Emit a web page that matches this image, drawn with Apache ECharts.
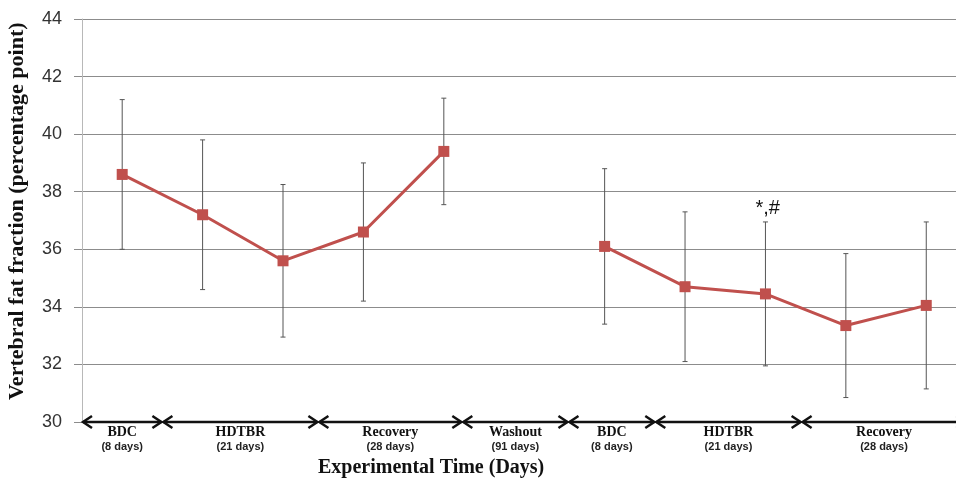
<!DOCTYPE html>
<html>
<head>
<meta charset="utf-8">
<script src="https://cdn.jsdelivr.net/npm/echarts@6/dist/echarts.min.js"></script>
<style>html,body{margin:0;padding:0;background:#fff;}#c{width:956px;height:483px;}</style>
</head>
<body>
<div id="c"></div>
<script>
// ---- data ----
var positions = [0, 1, 2, 3, 4, 5, 6, 7, 8, 9, 10];
var means     = [38.6, 37.2, 35.6, 36.6, 39.4, null, 36.1, 34.7, 34.45, 33.35, 34.05];
var errors    = [2.6, 2.6, 2.65, 2.4, 1.85, null, 2.7, 2.6, 2.5, 2.5, 2.9];
var annotText = ['', '', '', '', '', '', '', '', '*,#', '', ''];
var yTicks    = [30, 32, 34, 36, 38, 40, 42, 44];
var phaseNames  = ['BDC', 'HDTBR', 'Recovery', 'Washout', 'BDC', 'HDTBR', 'Recovery'];
var phaseDays   = ['(8 days)', '(21 days)', '(28 days)', '(91 days)', '(8 days)', '(21 days)', '(28 days)'];
var phaseBounds = [-0.5, 0.5, 2.44, 4.23, 5.55, 6.63, 8.45, 10.5];

// ---- build ----
var lineData = positions.map(function (p, i) { return [p, means[i] === null ? '-' : means[i]]; });
var errData = [];
positions.forEach(function (p, i) {
  if (means[i] !== null) errData.push([p, means[i] - errors[i], means[i] + errors[i], annotText[i]]);
});
var phaseData = phaseNames.map(function (n, i) { return [phaseBounds[i], phaseBounds[i + 1], n, phaseDays[i]]; });

var chart = echarts.init(document.getElementById('c'));
chart.setOption({
  animation: false,
  grid: { left: 82, right: 0, top: 19, bottom: 61 },
  xAxis: {
    type: 'value', min: -0.5, max: 10.37,
    axisLine: { show: false }, axisTick: { show: false }, axisLabel: { show: false }, splitLine: { show: false }
  },
  yAxis: {
    type: 'value', min: yTicks[0], max: yTicks[yTicks.length - 1], interval: 2,
    axisLine: { show: true, onZero: false, lineStyle: { color: '#b8b8b8', width: 1 } },
    axisTick: { show: true, length: 8, lineStyle: { color: '#8c8c8c' } },
    axisLabel: { margin: 20, color: '#333', fontSize: 18, fontFamily: 'Liberation Sans' },
    splitLine: { show: true, lineStyle: { color: '#8c8c8c', width: 1 } }
  },
  graphic: [
    { type: 'text', left: 318, top: 458,
      style: { text: 'Experimental Time (Days)', font: 'bold 20px "Liberation Serif"', fill: '#111' } },
    { type: 'text', x: 6, y: 400, rotation: Math.PI / 2,
      style: { text: 'Vertebral fat fraction (percentage point)', font: 'bold 22px "Liberation Serif"', fill: '#111' } }
  ],
  series: [
    {
      type: 'custom', z: 1, clip: false,
      data: errData,
      renderItem: function (params, api) {
        var x = api.value(0);
        var lo = api.coord([x, api.value(1)]);
        var hi = api.coord([x, api.value(2)]);
        var st = { stroke: '#555', lineWidth: 1 };
        var children = [
          { type: 'line', shape: { x1: lo[0], y1: lo[1], x2: hi[0], y2: hi[1] }, style: st },
          { type: 'line', shape: { x1: lo[0] - 2.5, y1: lo[1], x2: lo[0] + 2.5, y2: lo[1] }, style: st },
          { type: 'line', shape: { x1: hi[0] - 2.5, y1: hi[1], x2: hi[0] + 2.5, y2: hi[1] }, style: st }
        ];
        var t = api.value(3);
        if (t) children.push({ type: 'text', x: hi[0] - 10, y: hi[1] - 23,
          style: { text: t, font: '20px "Liberation Sans"', fill: '#111' } });
        return { type: 'group', children: children };
      }
    },
    {
      type: 'line', z: 3, data: lineData, connectNulls: false,
      symbol: 'rect', symbolSize: 11,
      lineStyle: { color: '#c0504d', width: 3 },
      itemStyle: { color: '#c0504d' }
    },
    {
      type: 'custom', z: 4, clip: false,
      data: phaseData,
      renderItem: function (params, api) {
        var a = api.coord([api.value(0), 30]);
        var b = api.coord([api.value(1), 30]);
        var y = a[1];
        var st = { stroke: '#111', lineWidth: 2.5, fill: null };
        var h = 10, w = 6;
        return { type: 'group', children: [
          { type: 'line', shape: { x1: a[0] + 1, y1: y, x2: b[0] - 1, y2: y }, style: st },
          { type: 'polyline', shape: { points: [[a[0] + h, y - w], [a[0] + 1, y], [a[0] + h, y + w]] }, style: st },
          { type: 'polyline', shape: { points: [[b[0] - h, y - w], [b[0] - 1, y], [b[0] - h, y + w]] }, style: st },
          { type: 'text', x: (a[0] + b[0]) / 2, y: y + 3,
            style: { text: api.value(2), font: 'bold 14px "Liberation Serif"', fill: '#111', align: 'center', verticalAlign: 'top' } },
          { type: 'text', x: (a[0] + b[0]) / 2, y: y + 19,
            style: { text: api.value(3), font: 'bold 11px "Liberation Sans"', fill: '#222', align: 'center', verticalAlign: 'top' } }
        ] };
      }
    }
  ]
});
</script>
</body>
</html>
